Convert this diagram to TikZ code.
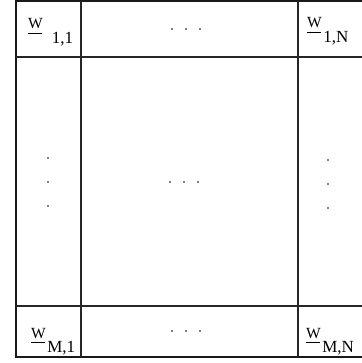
\documentclass[tikz,border=0pt]{standalone}
\usepackage{fontspec}
\setmainfont{Liberation Serif}
\usepackage{tikz}

% underlined W with a lowered index
\newcommand{\wbar}{{\fontsize{15.5}{15.5}\selectfont\makebox[0pt][l]{\rule[-5pt]{13.5pt}{0.9pt}}W}}
\newcommand{\wsub}[2][1.5pt]{\wbar\hspace{#1}\raisebox{-14.5pt}{\fontsize{17}{17}\selectfont #2}}

\tikzset{
  gridline/.style={line width=1.1pt, black!85},
  frameline/.style={line width=1.5pt, black!90},
  wlabel/.style={inner sep=0pt, anchor=base west},
  dotmark/.style={fill=black}
}

\begin{document}
\begin{tikzpicture}[x=1pt, y=-1pt]
  \useasboundingbox (0,0) rectangle (361,363);
  % frame and cell lines
  \draw[frameline] (370,1) -- (16,1) -- (16,357) -- (370,357);
  \draw[gridline] (81,1) -- (81,357);
  \draw[gridline] (298,1) -- (298,357);
  \draw[gridline] (16,57) -- (370,57);
  \draw[gridline] (16,306) -- (370,306);
  % corner entries
  \node[wlabel] (w11) at (28,29) {\wsub[9pt]{1,1}};
  \node[wlabel] (w1N) at (307,28) {\wsub{1,N}};
  \node[wlabel] (wM1) at (31,338) {\wsub{M,1}};
  \node[wlabel] (wMN) at (306,338) {\wsub{M,N}};
  % dots
  \foreach \x in {172,186,200} {
    \fill[dotmark] (\x,29) circle (0.9pt);
    \fill[dotmark] (\x,331) circle (0.9pt);
  }
  \foreach \x in {170,184,198}
    \fill[dotmark] (\x,182) circle (0.9pt);
  \foreach \y in {158,182,206}
    \fill[dotmark] (48,\y) circle (0.9pt);
  \foreach \y in {160,184,208}
    \fill[dotmark] (328,\y) circle (0.9pt);
\end{tikzpicture}
\end{document}
